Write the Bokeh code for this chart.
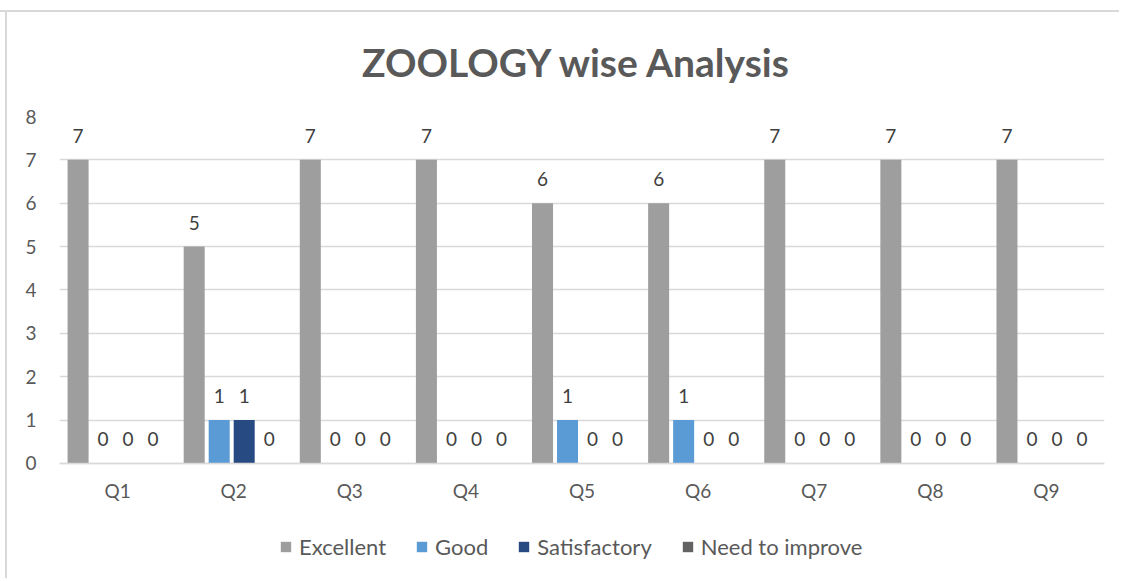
from bokeh.plotting import figure
from bokeh.models import ColumnDataSource, FactorRange, Range1d, FixedTicker, Legend, LegendItem
from bokeh.transform import dodge
from bokeh.embed import file_html
from bokeh.resources import INLINE

categories = ["Q1", "Q2", "Q3", "Q4", "Q5", "Q6", "Q7", "Q8", "Q9"]
excellent = [7, 5, 7, 7, 6, 6, 7, 7, 7]
good = [0, 1, 0, 0, 1, 1, 0, 0, 0]
satisfactory = [0, 1, 0, 0, 0, 0, 0, 0, 0]
need_to_improve = [0, 0, 0, 0, 0, 0, 0, 0, 0]
title_text = "ZOOLOGY  wise Analysis"

series_names = ["Excellent", "Good", "Satisfactory", "Need to improve"]
series_values = [excellent, good, satisfactory, need_to_improve]
series_colors = ["#9e9e9e", "#5b9bd5", "#284a82", "#636363"]

FONT = "Lato"
TXT = "#595959"

data = {"cat": categories}
for i, vals in enumerate(series_values):
    data[f"s{i}"] = vals
    data[f"l{i}"] = [str(v) for v in vals]
source = ColumnDataSource(data)

p = figure(
    width=1119, height=578,
    x_range=FactorRange(*categories, range_padding=0),
    y_range=Range1d(-2.467, 8),
    output_backend="svg", toolbar_location=None,
    min_border_left=59, min_border_right=15, min_border_top=116, min_border_bottom=8,
)
p.border_fill_color = None
p.background_fill_color = None
p.styles = {
    "background": (
        "linear-gradient(#d9d9d9, #d9d9d9) left 0px top 10px / 100% 2px no-repeat, "
        "linear-gradient(#d9d9d9, #d9d9d9) left 5px top 10px / 2px 100% no-repeat, #ffffff"
    ),
}

p.title.text = title_text
p.title.align = "center"
p.title.text_font = FONT
p.title.text_font_size = "39px"
p.title.text_font_style = "bold"
p.title.text_color = TXT
p.title.standoff = 64

p.outline_line_color = None
p.xgrid.grid_line_color = None
p.ygrid.grid_line_color = "#d9d9d9"
p.ygrid.grid_line_width = 1.5

p.yaxis.ticker = FixedTicker(ticks=list(range(9)))
p.yaxis.axis_line_color = None
p.yaxis.major_tick_line_color = None
p.yaxis.major_tick_out = 0
p.yaxis.minor_tick_line_color = None
p.yaxis.major_label_text_font = FONT
p.yaxis.major_label_text_font_size = "19px"
p.yaxis.major_label_text_color = TXT
p.yaxis.major_label_standoff = 23

p.xaxis.fixed_location = 0
p.xaxis.axis_line_color = "#d9d9d9"
p.xaxis.axis_line_width = 1.5
p.xaxis.major_tick_line_color = None
p.xaxis.major_tick_out = 0
p.xaxis.minor_tick_line_color = None
p.xaxis.major_label_text_font = FONT
p.xaxis.major_label_text_font_size = "19px"
p.xaxis.major_label_text_color = TXT
p.xaxis.major_label_standoff = 16

step = 0.2153
width = 0.181
shift = -0.017
offsets = [shift - 1.5 * step, shift - 0.5 * step, shift + 0.5 * step, shift + 1.5 * step]

items = []
for i, name in enumerate(series_names):
    r = p.vbar(x=dodge("cat", offsets[i], range=p.x_range), top=f"s{i}", bottom=0, width=width,
               source=source, fill_color=series_colors[i], line_color=None)
    items.append(LegendItem(label=name, renderers=[r]))
    p.text(x=dodge("cat", offsets[i], range=p.x_range), y=f"s{i}", text=f"l{i}",
           source=source, text_align="center", text_baseline="bottom", y_offset=-17,
           text_font_size="19px", text_color="#404040", text_font={"value": FONT})

legend = Legend(items=items, orientation="horizontal", location=(220, 10))
legend.border_line_color = None
legend.background_fill_alpha = 0
legend.label_text_font = FONT
legend.label_text_font_size = "22px"
legend.label_text_color = TXT
legend.glyph_width = 13
legend.glyph_height = 13
legend.label_standoff = 7
legend.spacing = 29
legend.margin = 0
legend.padding = 4
p.add_layout(legend, "center")

open("out.html", "w").write(file_html(p, INLINE))
